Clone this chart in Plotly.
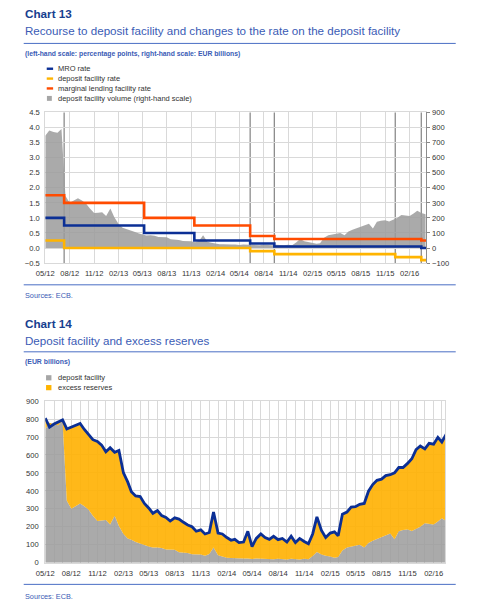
import pandas as pd
import plotly.graph_objects as go

W, H = 491, 614

# ---------------- data ----------------
# ECB policy rates (%), effective dates of changes
rate_dates = ["2012-05-01", "2012-07-11", "2013-05-08", "2013-11-13", "2014-06-11",
              "2014-09-10", "2015-12-09", "2016-03-16", "2016-04-04"]
mro_rate = [1.00, 0.75, 0.50, 0.25, 0.15, 0.05, 0.05, 0.00, 0.00]
deposit_rate = [0.25, 0.00, 0.00, 0.00, -0.10, -0.20, -0.30, -0.40, -0.40]
mlf_rate = [1.75, 1.50, 1.00, 0.75, 0.40, 0.30, 0.30, 0.25, 0.25]
deposit_rate_change_dates = ["2012-07-11", "2014-06-11", "2014-09-10", "2015-12-09", "2016-03-16"]

# semi-monthly observation dates (1st and 16th of each month), May 2012 - Apr 2016
months = pd.date_range("2012-05-01", "2016-04-01", freq="MS")
obs_dates = []
for m in months:
    obs_dates.append(m)
    if m < months[-1]:
        obs_dates.append(m + pd.Timedelta(days=15))

# deposit facility recourse (EUR billions)
deposit_facility = [
    745, 780, 770, 765, 790, 345, 300, 315, 330, 315,
    295, 262, 232, 235, 238, 212, 262, 205, 160, 135,
    128, 115, 108, 98, 90, 84, 85, 82, 74, 75,
    72, 58, 56, 54, 47, 48, 45, 38, 48, 85,
    42, 35, 28, 26, 25, 22, 23, 24, 20, 24,
    22, 20, 21, 19, 22, 20, 18, 22, 20, 18,
    22, 19, 37, 60, 45, 38, 35, 28, 32, 68,
    85, 90, 95, 100, 85, 110, 122, 132, 145, 155,
    162, 130, 175, 182, 185, 176, 188, 200, 220, 215,
    212, 230, 248, 232, 225,
]
# deposit facility + excess reserves (EUR billions)
excess_liquidity = [
    805, 755, 772, 782, 795, 745, 755, 765, 775, 742,
    710, 685, 675, 655, 618, 640, 615, 625, 500, 450,
    395, 372, 368, 330, 305, 275, 290, 262, 252, 232,
    250, 243, 225, 210, 200, 175, 183, 160, 168, 282,
    165, 160, 140, 125, 130, 112, 115, 175, 90, 135,
    160, 140, 130, 147, 128, 135, 115, 147, 112, 135,
    118, 105, 160, 255, 180, 140, 165, 172, 150, 270,
    282, 310, 312, 325, 330, 398, 435, 459, 465, 485,
    490, 500, 530, 530, 553, 579, 630, 650, 634, 665,
    660, 698, 672, 715, 715,
]

# ---------------- style ----------------
FONT = "Arial, 'Liberation Sans', sans-serif"
BLUE = "#0b2f95"
YELLOW = "#ffb400"
ORANGE = "#ff4b00"
GREY_FILL = "rgba(155,155,155,0.85)"
TITLE_BLUE = "#17408f"
SUB_BLUE = "#3a5bb5"
RULE = "#4a6ec4"
TXT = "#333333"
GRID = "#d9d9d9"


def fx(px):
    return px / W


def fy(py):
    return 1 - py / H


fig = go.Figure()

# ---------- Chart 13 ----------
# volume on the right-hand scale (main y axis), rates on overlaying left-hand scale (y2)
fig.add_trace(go.Scatter(x=obs_dates, y=deposit_facility, xaxis="x", yaxis="y",
                         mode="lines", line=dict(width=0), fill="tozeroy",
                         fillcolor=GREY_FILL, showlegend=False, hoverinfo="skip"))
for vals, col in [(deposit_rate, YELLOW), (mlf_rate, ORANGE), (mro_rate, BLUE)]:
    fig.add_trace(go.Scatter(x=rate_dates, y=vals, xaxis="x", yaxis="y2", mode="lines",
                             line=dict(color=col, width=2.6, shape="hv"), showlegend=False))

# ---------- Chart 14 ----------
fig.add_trace(go.Scatter(x=obs_dates, y=deposit_facility, xaxis="x2", yaxis="y3",
                         mode="lines", line=dict(width=0), fill="tozeroy",
                         fillcolor=GREY_FILL, showlegend=False))
fig.add_trace(go.Scatter(x=obs_dates, y=excess_liquidity, xaxis="x2", yaxis="y3",
                         mode="lines", line=dict(width=0), fill="tonexty",
                         fillcolor="rgba(255,176,0,0.9)", showlegend=False))
fig.add_trace(go.Scatter(x=obs_dates, y=excess_liquidity, xaxis="x2", yaxis="y3",
                         mode="lines", line=dict(color=BLUE, width=2.8), showlegend=False))

tickfont = dict(family=FONT, size=7.6, color=TXT)

fig.update_layout(
    width=W, height=H, margin=dict(l=0, r=0, t=0, b=0), autosize=False,
    paper_bgcolor="white", plot_bgcolor="white", showlegend=False,
    font=dict(family=FONT),
    xaxis=dict(domain=[fx(36), fx(425)], anchor="y", type="date",
               range=["2012-05-01", "2016-04-04"], tick0="2012-05-01", dtick="M3",
               tickformat="%m/%y", showgrid=True, gridcolor=GRID, gridwidth=1,
               ticks="", tickfont=tickfont, zeroline=False, showline=True,
               linecolor=GRID, mirror=True, ticklabelstandoff=3),
    yaxis=dict(domain=[fy(263), fy(110)], anchor="x", side="right", range=[-100, 900],
               dtick=100, showgrid=True, gridcolor=GRID, zeroline=False,
               ticks="outside", ticklen=3, tickcolor="#888888", tickfont=tickfont,
               showline=True, linecolor="#8c8c8c", linewidth=1.3),
    yaxis2=dict(overlaying="y", anchor="x", side="left", range=[-0.5, 4.5], dtick=0.5,
                tickformat=".1f", showgrid=False, zeroline=False, ticks="",
                tickfont=tickfont, showline=True, linecolor=GRID, ticklabelstandoff=3),
    xaxis2=dict(domain=[fx(36), fx(444)], anchor="y3", type="date",
                range=["2012-05-01", "2016-03-12"], tick0="2012-05-01", dtick="M3",
                tickformat="%m/%y", showgrid=True, gridcolor=GRID, ticks="",
                minor=dict(dtick="M1", tick0="2012-05-01", showgrid=True, gridcolor=GRID),
                tickfont=tickfont, zeroline=False, showline=True, linecolor=GRID, mirror=True,
                ticklabelstandoff=3),
    yaxis3=dict(domain=[fy(567), fy(403)], anchor="x2", range=[0, 900], dtick=100,
                showgrid=True, gridcolor=GRID, zeroline=False, ticks="",
                tickfont=tickfont, showline=True, linecolor=GRID, mirror=True,
                ticklabelstandoff=4),
)

shapes = []
# deposit-rate change markers (chart 13)
for d in deposit_rate_change_dates:
    shapes.append(dict(type="line", xref="x", yref="y domain", x0=d, x1=d, y0=0, y1=1,
                       line=dict(color="#8c8c8c", width=1.3), layer="below"))
# blue rules
for py in [40, 285, 353, 589]:
    shapes.append(dict(type="line", xref="paper", yref="paper", x0=fx(14), x1=fx(455),
                       y0=fy(py), y1=fy(py), line=dict(color=RULE, width=1)))
# legend keys chart 13
for py, col in [(65.7, BLUE), (75.7, YELLOW), (85.7, ORANGE)]:
    shapes.append(dict(type="line", xref="paper", yref="paper", x0=fx(37.5), x1=fx(44),
                       y0=fy(py), y1=fy(py), line=dict(color=col, width=2.4)))
shapes.append(dict(type="rect", xref="paper", yref="paper", x0=fx(37.7), x1=fx(42.7),
                   y0=fy(98.3), y1=fy(93.3), fillcolor="#a6a6a6", line=dict(width=0)))
# legend keys chart 14
shapes.append(dict(type="rect", xref="paper", yref="paper", x0=fx(36.8), x1=fx(42.3),
                   y0=fy(382), y1=fy(376.7), fillcolor="#a6a6a6", line=dict(width=0)))
shapes.append(dict(type="rect", xref="paper", yref="paper", x0=fx(36.8), x1=fx(42.3),
                   y0=fy(392), y1=fy(386.7), fillcolor=YELLOW, line=dict(width=0)))
fig.update_layout(shapes=shapes)

anns = []


def text(t, px, py, size, color):
    anns.append(dict(text=t, x=fx(px), y=fy(py), xref="paper", yref="paper",
                     showarrow=False, xanchor="left", yanchor="middle",
                     font=dict(family=FONT, size=size, color=color)))


text("<b>Chart 13</b>", 13.5, 10, 11.7, TITLE_BLUE)
text("Recourse to deposit facility and changes to the rate on the deposit facility",
     13.5, 26.7, 11.6, SUB_BLUE)
text("<b>(left-hand scale: percentage points, right-hand scale: EUR billions)</b>",
     13.5, 51, 6.8, SUB_BLUE)
text("MRO rate", 47, 65.7, 7.5, TXT)
text("deposit facility rate", 47, 75.7, 7.5, TXT)
text("marginal lending facility rate", 47, 85.7, 7.5, TXT)
text("deposit facility volume (right-hand scale)", 47, 95.7, 7.5, TXT)
text("Sources: ECB.", 13.5, 296, 7.3, SUB_BLUE)

text("<b>Chart 14</b>", 13.5, 324, 11.7, TITLE_BLUE)
text("Deposit facility and excess reserves", 13.5, 341.7, 11.6, SUB_BLUE)
text("<b>(EUR billions)</b>", 13.5, 363.7, 6.9, SUB_BLUE)
text("deposit facility", 47, 379.3, 7.5, TXT)
text("excess reserves", 47, 389.3, 7.5, TXT)
text("Sources: ECB.", 13.5, 601, 7.3, SUB_BLUE)
fig.update_layout(annotations=anns)

fig.write_html("out.html", config={"displayModeBar": False},
               post_script="document.body.style.margin='0';"
                           "document.body.style.overflow='hidden';")
